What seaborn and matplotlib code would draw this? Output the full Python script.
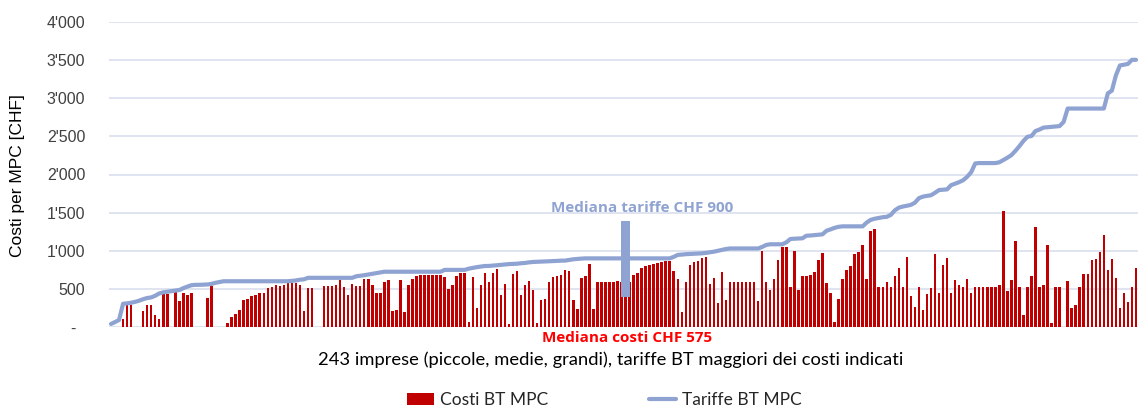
import matplotlib
matplotlib.use("Agg")
import matplotlib.pyplot as plt
import seaborn as sns
import pandas as pd
import numpy as np
from matplotlib.patches import Patch
from matplotlib.lines import Line2D

# ---------------- data ----------------
costs = [
    0, 0, 0, 105, 285, 285, 0, 0, 212, 285, 285, 157, 105, 436, 436, 0,
    455, 338, 452, 416, 452, 0, 0, 0, 377, 540, 0, 0, 0, 55, 131, 172,
    218, 349, 362, 401, 414, 449, 449, 516, 531, 545, 540, 545, 573, 573, 573, 553,
    209, 516, 516, 0, 0, 543, 543, 543, 550, 610, 531, 414, 568, 543, 543, 635,
    632, 557, 440, 440, 592, 618, 209, 218, 618, 196, 557, 632, 675, 688, 688, 688,
    688, 688, 688, 658, 492, 557, 675, 714, 714, 65, 658, 244, 557, 710, 592, 710,
    762, 414, 566, 44, 697, 736, 414, 557, 605, 479, 52, 349, 362, 592, 658, 671,
    684, 749, 736, 349, 235, 645, 671, 827, 231, 592, 592, 592, 592, 592, 605, 592,
    592, 592, 684, 710, 771, 801, 814, 827, 836, 853, 866, 866, 736, 631, 196, 592,
    814, 853, 866, 905, 919, 566, 644, 313, 723, 348, 592, 592, 592, 592, 592, 592,
    592, 335, 1000, 592, 479, 631, 879, 1049, 1045, 527, 1000, 479, 671, 671, 684, 719,
    879, 966, 579, 444, 65, 361, 631, 749, 801, 957, 979, 1079, 631, 1262, 1288, 527,
    531, 584, 531, 670, 775, 531, 918, 401, 261, 531, 222, 436, 518, 958, 440, 814,
    905, 440, 619, 545, 531, 632, 440, 531, 531, 531, 531, 531, 531, 545, 1523, 466,
    610, 1123, 531, 157, 531, 670, 1314, 531, 553, 1070, 57, 531, 531, 0, 597, 248,
    283, 531, 701, 701, 880, 893, 984, 1201, 753, 893, 645, 248, 440, 322, 531, 775,
]

tariffs = [
    40, 65, 92, 305, 310, 318, 330, 345, 365, 380, 388, 410, 440, 455, 462, 470,
    478, 485, 510, 530, 548, 553, 553, 556, 558, 565, 580, 590, 600, 600, 600, 600,
    600, 600, 600, 600, 600, 600, 600, 600, 600, 600, 600, 600, 600, 605, 610, 620,
    625, 645, 645, 645, 645, 645, 645, 645, 645, 645, 645, 645, 645, 665, 672, 679,
    688, 697, 705, 715, 725, 725, 725, 725, 725, 725, 725, 725, 725, 725, 725, 725,
    725, 725, 725, 749, 749, 749, 749, 749, 749, 765, 775, 785, 792, 800, 801, 805,
    810, 815, 820, 825, 827, 830, 836, 840, 848, 853, 855, 858, 860, 862, 865, 867,
    870, 871, 880, 888, 893, 897, 900, 900, 900, 900, 900, 900, 900, 900, 900, 900,
    900, 900, 900, 900, 900, 900, 900, 900, 900, 900, 900, 900, 920, 945, 950, 955,
    958, 960, 963, 966, 972, 980, 988, 1000, 1012, 1023, 1030, 1030, 1030, 1030, 1030, 1030,
    1030, 1030, 1050, 1076, 1085, 1085, 1085, 1085, 1110, 1154, 1158, 1160, 1163, 1197, 1200, 1205,
    1210, 1215, 1262, 1280, 1300, 1314, 1320, 1320, 1320, 1320, 1320, 1320, 1370, 1405, 1420, 1430,
    1440, 1445, 1470, 1530, 1565, 1580, 1590, 1602, 1630, 1690, 1710, 1720, 1728, 1760, 1796, 1800,
    1805, 1860, 1880, 1900, 1925, 1970, 2030, 2145, 2150, 2150, 2150, 2150, 2150, 2160, 2190, 2220,
    2254, 2310, 2372, 2440, 2495, 2505, 2570, 2590, 2615, 2620, 2625, 2630, 2635, 2690, 2865, 2865,
    2865, 2865, 2865, 2865, 2865, 2865, 2865, 2865, 3064, 3100, 3300, 3430, 3440, 3450, 3504, 3504,
]

y_ticks = [0, 500, 1000, 1500, 2000, 2500, 3000, 3500, 4000]
y_tick_labels = ["-  ", "500", "1'000", "1'500", "2'000", "2'500", "3'000", "3'500", "4'000"]

median_idx = 128
median_box = (390, 1385)  # annotation box range (CHF)
median_cost_text = "Mediana costi CHF 575"
median_tariff_text = "Mediana tariffe CHF 900"
x_label = "243 imprese (piccole, medie, grandi), tariffe BT maggiori dei costi indicati"
y_label = "Costi per MPC [CHF]"
legend_labels = ["Costi BT MPC", "Tariffe BT MPC"]

RED = "#C00000"
BLUE = "#8FA3D2"
GRID = "#DADFEE"

# ---------------- plot ----------------
sns.set_theme(style="white")
plt.rcParams["font.family"] = ["Liberation Sans", "DejaVu Sans"]

n = len(costs)
df = pd.DataFrame({"idx": np.arange(n), "cost": costs, "tariff": tariffs[:n]})

fig = plt.figure(figsize=(11.38, 4.08), dpi=100)
ax = fig.add_axes([109 / 1138, 1 - 327 / 408, 1 - 109 / 1138, (327 - 22) / 408])

sns.barplot(data=df, x="idx", y="cost", color=RED, saturation=1, width=0.62,
            ax=ax, zorder=2, linewidth=0)
sns.lineplot(data=df, x="idx", y="tariff", color=BLUE, linewidth=3.0, ax=ax,
             zorder=3, solid_capstyle="round", solid_joinstyle="round")

# median annotation box
ax.bar([median_idx], [median_box[1] - median_box[0]], bottom=median_box[0],
       width=2.4, color=BLUE, zorder=4, linewidth=0)

ax.set_xlim(-0.5, n - 0.5)
ax.set_ylim(0, 4000)
ax.set_yticks(y_ticks)
ax.set_yticklabels(y_tick_labels)
ax.set_xticks([])
ax.set_xlabel("")
ax.set_ylabel("")
ax.tick_params(axis="y", length=0, pad=17, labelsize=11.5, labelcolor="#404040")
for t in y_ticks:
    ax.axhline(t, color=GRID, linewidth=1.2, zorder=1)
for s in ax.spines.values():
    s.set_visible(False)

fig.text(18 / 1138, 1 - 176 / 408, y_label, rotation=90, ha="center", va="center",
         fontsize=12.5, color="#000000")

fig.text(642 / 1138, 1 - 208 / 408, median_tariff_text, ha="center", va="center",
         fontsize=11, fontweight="bold", color=BLUE, family=["Open Sans", "DejaVu Sans"])
fig.text(627 / 1138, 1 - 338 / 408, median_cost_text, ha="center", va="center",
         fontsize=11, fontweight="bold", color="#FF0000", family=["Open Sans", "DejaVu Sans"])
fig.text(611 / 1138, 1 - 360 / 408, x_label, ha="center", va="center",
         fontsize=13.2, color="#000000", family=["Lato", "DejaVu Sans"])

handles = [Patch(facecolor=RED, edgecolor="none"),
           Line2D([0], [0], color=BLUE, linewidth=3)]
fig.legend(handles, legend_labels, loc="center", bbox_to_anchor=(604 / 1138, 1 - 400 / 408),
           ncol=2, frameon=False, columnspacing=5.8, handlelength=1.6, handleheight=0.75,
           handletextpad=0.3, borderpad=0.1, prop={"family": ["Lato", "DejaVu Sans"], "size": 12.5})

fig.savefig("out.png", dpi=100)
